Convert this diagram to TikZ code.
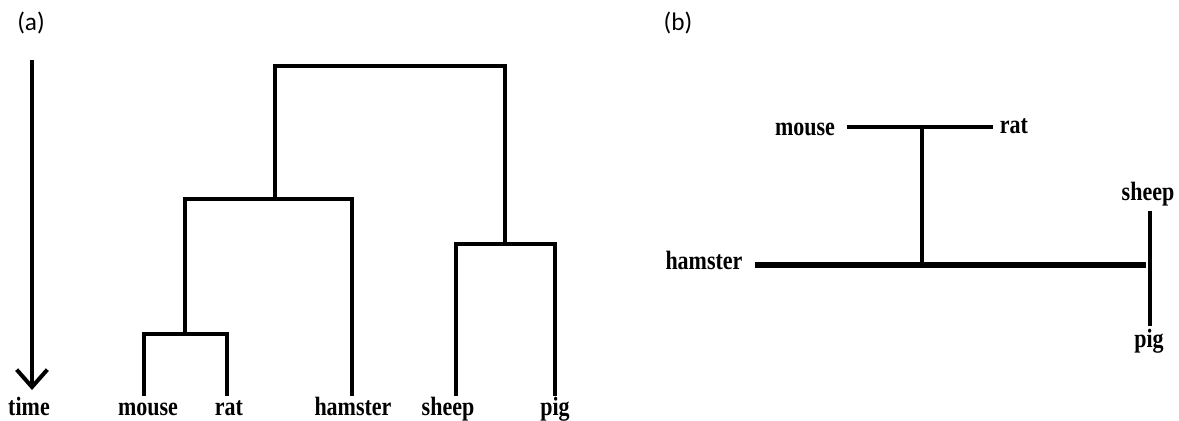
\documentclass[tikz,border=0pt]{standalone}
\usepackage{graphicx}
\usepackage{fontspec}
\setmainfont{Liberation Serif}
\newfontfamily\panelfont{Carlito}
\usetikzlibrary{arrows.meta}
\newcommand{\tallbold}[1]{\scalebox{1}[1.2]{#1}}
\begin{document}
\begin{tikzpicture}[x=0.75pt,y=-0.75pt,
  branch/.style={line width=3.6pt,line join=miter,line cap=rect},
  taxon/.style={font=\fontsize{16.5}{18}\selectfont\bfseries,inner sep=0pt,anchor=base},
  panel/.style={font=\panelfont\fontsize{19}{22}\selectfont,inner sep=0pt}]
\useasboundingbox (0,0) rectangle (1179,421);

% ---------- panel (a) ----------
\node[panel] (pa) at (31,23) {(a)};
\coordinate (tstart) at (32,60);
\coordinate (tend) at (32,390);
\draw[line width=3pt,-{Straight Barb[length=13pt,width=23pt]}] (tstart) -- (tend);
\node[taxon] (ltime) at (29,415) {\tallbold{time}};

% leaves
\coordinate (amouse) at (144,394);
\coordinate (arat) at (227,394);
\coordinate (ahamster) at (352,394);
\coordinate (asheep) at (456,394);
\coordinate (apig) at (555,394);
% internal nodes
\coordinate (amr) at (185,334);
\coordinate (amrh) at (275,199);
\coordinate (asp) at (505,244);
\coordinate (aroot) at (390,66);

\draw[branch] (amouse) |- (amr) -| (arat);
\draw[branch] (amr) |- (amrh) -| (ahamster);
\draw[branch] (asheep) |- (asp) -| (apig);
\draw[branch] (amrh) |- (aroot) -| (asp);

\node[taxon] (lmouse) at (148,415) {\tallbold{mouse}};
\node[taxon] (lrat) at (229,415) {\tallbold{rat}};
\node[taxon] (lhamster) at (353,415) {\tallbold{hamster}};
\node[taxon] (lsheep) at (448,415) {\tallbold{sheep}};
\node[taxon] (lpig) at (555,415) {\tallbold{pig}};

% ---------- panel (b) ----------
\node[panel] (pb) at (678,23) {(b)};

\node[taxon] (bmouse) at (805,135) {\tallbold{mouse}};
\node[taxon] (brat) at (1014,133) {\tallbold{rat}};
\node[taxon] (bhamster) at (704,269) {\tallbold{hamster}};
\node[taxon] (bsheep) at (1148,200) {\tallbold{sheep}};
\node[taxon] (bpig) at (1149,347) {\tallbold{pig}};

\coordinate (bml) at (847,127);
\coordinate (bmr) at (993,127);
\coordinate (bmid) at (922,127);
\coordinate (bjoin) at (922,263);
\coordinate (bhl) at (755,265);
\coordinate (bhr) at (1146,265);
\coordinate (bst) at (1150,211);
\coordinate (bpb) at (1150,326);

\draw[line width=2.8pt] (bml) -- (bmr);
\draw[line width=3pt] (bmid) -- (bjoin);
\draw[line width=4.2pt] (bhl) -- (bhr);
\draw[line width=3pt] (bst) -- (bpb);
\end{tikzpicture}
\end{document}
